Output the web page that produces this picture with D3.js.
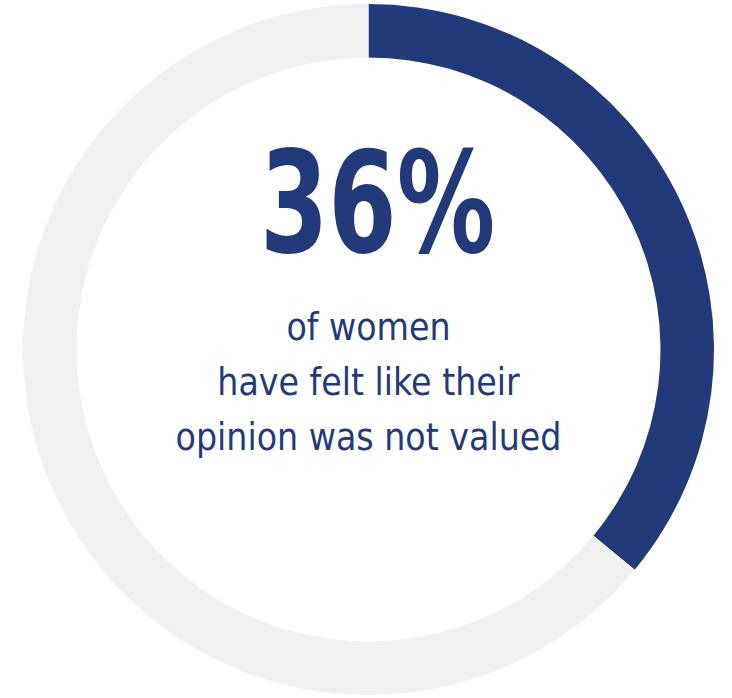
<!DOCTYPE html>
<html>
<head>
<meta charset="utf-8">
<script src="https://cdn.jsdelivr.net/npm/d3@7"></script>
<style>
  html, body { margin: 0; padding: 0; background: #ffffff; }
  svg { display: block; }
</style>
</head>
<body>
<svg id="chart" width="732" height="698"></svg>
<script>
// Share of women who have felt their opinion was not valued
const categories = ["Not valued", "Other"];
const values = [36, 64];
const headline = "36%";
const captionLines = ["of women", "have felt like their", "opinion was not valued"];
const colors = ["#233a7a", "#f0f0f0"];

const svg = d3.select("#chart");
const cx = 368.5, cy = 349.5;
const outerR = 345.5, innerR = 292;

const g = svg.append("g").attr("transform", `translate(${cx},${cy})`);

const pie = d3.pie().sort(null).value(d => d)(values);
const arc = d3.arc().innerRadius(innerR).outerRadius(outerR);

g.selectAll("path.slice")
  .data(pie)
  .join("path")
  .attr("class", "slice")
  .attr("d", arc)
  .attr("fill", (d, i) => colors[i]);

const font = "'DejaVu Sans Condensed', 'DejaVu Sans', sans-serif";

// Big percentage, slightly narrowed horizontally
g.append("g")
  .attr("transform", "translate(9,-98) scale(0.78,1)")
  .append("text")
  .attr("x", 0)
  .attr("y", 0)
  .attr("text-anchor", "middle")
  .attr("font-family", font)
  .attr("font-weight", "bold")
  .attr("font-size", 140)
  .attr("fill", colors[0])
  .text(headline);

g.selectAll("text.caption")
  .data(captionLines)
  .join("text")
  .attr("class", "caption")
  .attr("x", 0)
  .attr("y", (d, i) => -10 + i * 55)
  .attr("text-anchor", "middle")
  .attr("font-family", font)
  .attr("font-size", 37)
  .attr("fill", colors[0])
  .text(d => d);
</script>
</body>
</html>
